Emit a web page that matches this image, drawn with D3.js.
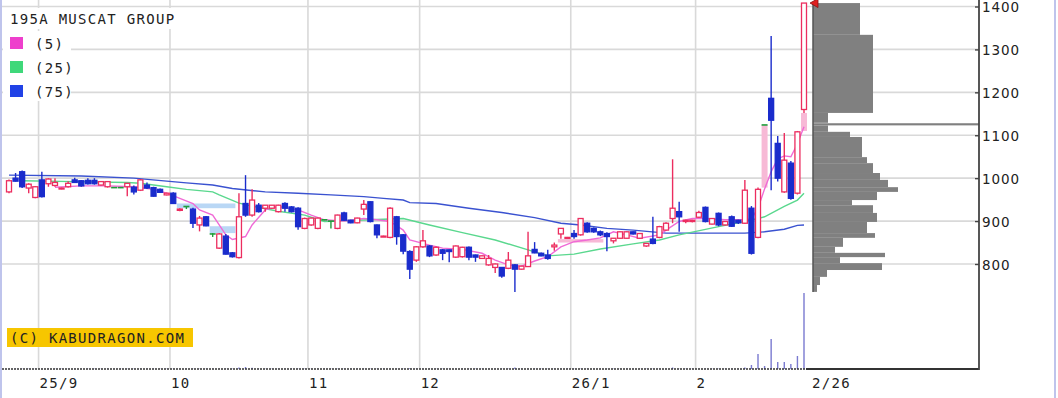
<!DOCTYPE html>
<html>
<head>
<meta charset="utf-8">
<script src="https://cdn.jsdelivr.net/npm/d3@7/dist/d3.min.js"></script>
<style>
  body { margin: 0; background: #fff; }
  svg { display: block; }
  .mono { font-family: "DejaVu Sans Mono", monospace; font-size: 14px; letter-spacing: 1.3px; fill: #222; }
  .price { font-family: "DejaVu Sans", sans-serif; font-size: 13.5px; letter-spacing: 0.9px; fill: #222; }
</style>
</head>
<body>
<svg id="chart" width="1058" height="398"></svg>
<script>
const title = '195A MUSCAT GROUP';
const maLabels = ['(5)', '(25)', '(75)'];
const copyright = '(C) KABUDRAGON.COM';
const priceTicks = [800, 900, 1000, 1100, 1200, 1300, 1400];
// month label + index of first candle in that month
const monthTicks = [['25/9', 5], ['10', 25], ['11', 46], ['12', 63], ['26/1', 86], ['2', 105]];
const lastDate = '2/26';

// daily candles [open, high, low, close]
const candles = [
  [968, 997, 965, 994], [1000, 1012, 992, 993], [1015, 1018, 977, 980], [977, 988, 965, 986],
  [955, 982, 953, 980], [996, 1015, 955, 957], [987, 1000, 980, 998], [983, 1000, 980, 990],
  [975, 978, 974, 977], [980, 993, 978, 988], [996, 1001, 989, 990], [994, 996, 980, 982],
  [995, 1000, 985, 987], [995, 1000, 985, 987], [984, 993, 983, 992], [980, 993, 978, 992],
  [978, 979, 977, 978], [978, 979, 977, 978], [980, 989, 958, 988], [979, 983, 962, 968],
  [972, 998, 970, 996], [984, 990, 975, 977], [978, 980, 957, 958], [974, 976, 966, 967],
  [961, 966, 960, 965], [965, 967, 941, 941], [925, 930, 923, 928], [934, 934, 928, 934],
  [928, 931, 884, 895], [891, 912, 876, 907], [910, 912, 888, 889], [870, 872, 863, 870],
  [837, 872, 835, 870], [865, 870, 822, 823], [826, 828, 815, 817], [815, 965, 813, 910],
  [941, 1007, 910, 914], [914, 974, 910, 949], [937, 942, 920, 922], [930, 937, 922, 937],
  [930, 937, 928, 937], [922, 938, 920, 937], [941, 944, 922, 930], [933, 935, 920, 922],
  [930, 932, 880, 887], [883, 908, 881, 906], [891, 908, 889, 907], [883, 908, 881, 907],
  [903, 904, 902, 903], [900, 900, 883, 900], [883, 915, 881, 914], [919, 922, 900, 902],
  [902, 903, 895, 896], [896, 908, 895, 907], [928, 949, 914, 939], [945, 946, 897, 899],
  [891, 892, 860, 868], [864, 866, 863, 865], [862, 932, 860, 930], [910, 912, 845, 864],
  [868, 870, 823, 830], [829, 832, 765, 788], [809, 842, 805, 840], [840, 879, 838, 854],
  [842, 844, 816, 819], [821, 841, 819, 839], [833, 835, 809, 825], [833, 834, 804, 829],
  [816, 843, 814, 842], [817, 840, 815, 839], [839, 841, 809, 816], [821, 822, 805, 816],
  [813, 820, 812, 819], [798, 821, 796, 813], [792, 801, 779, 800], [792, 793, 768, 772],
  [790, 828, 788, 809], [798, 800, 735, 788], [788, 796, 787, 795], [794, 875, 793, 819],
  [834, 851, 825, 826], [825, 827, 818, 819], [821, 833, 810, 813], [840, 850, 831, 844],
  [870, 883, 859, 883], [860, 863, 859, 862], [871, 879, 859, 864], [868, 907, 866, 906],
  [895, 897, 873, 875], [883, 885, 873, 875], [875, 878, 865, 868], [871, 874, 830, 864],
  [854, 860, 848, 860], [860, 876, 859, 875], [860, 876, 859, 875], [875, 876, 869, 870],
  [860, 872, 859, 871], [842, 849, 840, 848], [858, 910, 846, 848], [862, 889, 860, 887],
  [879, 897, 878, 895], [906, 1044, 895, 930], [922, 945, 875, 910], [899, 903, 895, 902],
  [899, 903, 897, 902], [909, 924, 907, 920], [932, 934, 897, 899], [893, 907, 892, 906],
  [918, 920, 888, 891], [891, 900, 890, 899], [910, 913, 886, 888], [902, 903, 893, 896],
  [895, 996, 893, 972], [930, 935, 822, 825], [862, 978, 860, 974], [1124, 1124, 1124, 1124],
  [1186, 1331, 972, 1135], [1081, 1098, 992, 1000], [968, 1105, 966, 1042], [1035, 1040, 950, 953],
  [965, 1110, 962, 1108], [1160, 1408, 1152, 1408]
];

// volume per candle (only the last days are visible)
const volumes = [
  3, 3, 3, 3, 3, 3, 3, 3, 3, 3, 3, 3, 3, 3, 3, 3, 3, 3, 3, 3,
  3, 3, 3, 3, 3, 3, 3, 3, 3, 3, 3, 3, 3, 3, 3, 15, 20, 12, 3, 3,
  3, 3, 3, 3, 3, 3, 3, 3, 3, 3, 3, 3, 3, 3, 3, 3, 3, 3, 3, 3,
  3, 8, 3, 3, 3, 3, 3, 3, 3, 3, 3, 3, 3, 3, 3, 3, 3, 15, 3, 3,
  3, 3, 3, 3, 3, 3, 3, 3, 3, 3, 3, 3, 3, 3, 3, 3, 3, 3, 3, 3,
  3, 15, 3, 3, 3, 3, 3, 3, 3, 3, 3, 3, 15, 40, 150, 30, 300, 70, 70, 50,
  130, 760
];

// moving averages [candle index, value]
const ma5 = [[7, 979], [11, 982], [15, 982], [19, 980], [22, 974], [24, 965], [26, 953], [28, 941],
  [29, 926], [31, 914], [33, 868], [34, 857], [36, 864], [37, 891], [39, 926], [41, 934], [44, 926],
  [46, 914], [48, 903], [51, 900], [54, 906], [56, 903], [58, 899], [60, 879], [61, 856], [64, 844],
  [66, 837], [69, 834], [72, 825], [74, 809], [76, 798], [78, 795], [80, 807], [82, 817], [84, 840],
  [86, 852], [88, 856], [90, 861], [92, 875], [94, 868], [96, 860], [99, 868], [100, 879], [102, 899],
  [104, 906], [106, 906], [109, 903], [111, 903], [112, 903], [113, 905], [114, 930], [115, 975],
  [116, 1015], [117, 1045], [118, 1052], [119, 1050], [120, 1080], [121, 1120]];
const ma25 = [[2, 994], [10, 992], [18, 990], [20, 988], [24, 980], [27, 974], [31, 968], [32, 961],
  [35, 942], [37, 935], [41, 923], [45, 914], [48, 899], [55, 903], [60, 906], [64, 891], [69, 873],
  [74, 856], [79, 833], [82, 819], [86, 823], [90, 835], [95, 847], [99, 856], [102, 868], [108, 887],
  [112, 899], [115, 910], [118, 934], [120, 949], [121, 965]];
const ma75 = [[0, 1007], [11, 1005], [19, 1000], [24, 993], [27, 989], [31, 984], [34, 976], [39, 968],
  [44, 965], [49, 961], [54, 957], [57, 953], [60, 949], [61, 943], [65, 941], [70, 930], [75, 920],
  [80, 908], [84, 895], [87, 891], [91, 883], [95, 879], [100, 872], [105, 872], [112, 872], [115, 875],
  [118, 881], [120, 890], [121, 891]];

// price gaps (windows): [from index, to index, low, high, direction]
const gaps = [[26, 34, 930, 941, 'down'], [31, 34, 872, 888, 'down'], [84, 90, 850, 858, 'up'],
  [115, 115, 978, 1124, 'up'], [121, 121, 1110, 1152, 'up']];

// volume by price: [low, high, volume]
const profile = [
  [1334, 1408, 235], [1152, 1334, 300], [1129, 1152, 75], [1123, 1128, 830], [1108, 1123, 75],
  [1096, 1108, 185], [1049, 1096, 245], [1035, 1049, 270], [1012, 1035, 300], [996, 1012, 335],
  [979, 996, 375], [968, 979, 425], [949, 968, 320], [937, 949, 195], [919, 937, 300],
  [898, 919, 320], [872, 898, 270], [861, 872, 310], [840, 861, 150], [826, 840, 110],
  [816, 826, 360], [802, 816, 135], [786, 802, 345], [770, 786, 70], [751, 770, 35], [735, 751, 20]
];

const W = 1058, H = 398;
const plotRight = 979, baseY = 369, profX = 813;
const colors = { up: '#ec2d5f', down: '#1a2ccc', even: '#1f9e3a',
  ma5: '#f06ad6', ma25: '#5ad88e', ma75: '#3a52d0' };
const legendColors = ['#ee3fcc', '#3fd87a', '#2142e6'];

const svg = d3.select('#chart');
const x = d3.scaleLinear().domain([0, candles.length - 1]).range([9, 804]);
const y = d3.scaleLinear().domain([800, 1400]).range([264, 6.5]);
const yVol = d3.scaleLinear().domain([0, 1000]).range([baseY, baseY - 100]);
const wProf = d3.scaleLinear().domain([0, 1000]).range([0, 200]);

const bars = candles.map(([o, h, l, c], i) => ({
  i, o, h, l, c, kind: c > o ? 'up' : c < o ? 'down' : 'even'
}));

svg.append('rect').attr('width', W).attr('height', H).attr('fill', '#fff');

// grid
const grid = svg.append('g').attr('stroke', '#d9d9d9').attr('stroke-width', 1.6);
grid.selectAll('.h').data(priceTicks).join('line')
  .attr('x1', 2).attr('x2', plotRight).attr('y1', d => y(d)).attr('y2', d => y(d));
grid.selectAll('.v').data(monthTicks).join('line')
  .attr('x1', d => x(d[1] - 0.5)).attr('x2', d => x(d[1] - 0.5)).attr('y1', 0).attr('y2', baseY);

// gap windows
svg.append('g').selectAll('rect').data(gaps).join('rect')
  .attr('x', d => x(d[0]) - 3).attr('width', d => x(d[1]) - x(d[0]) + 6)
  .attr('y', d => y(d[3])).attr('height', d => y(d[2]) - y(d[3]))
  .attr('fill', d => d[4] === 'up' ? '#f7b9d6' : '#b9d7f5');

// volume profile
svg.append('g').selectAll('rect').data(profile).join('rect')
  .attr('x', profX).attr('width', d => wProf(d[2]))
  .attr('y', d => y(d[1])).attr('height', d => Math.max(1.5, y(d[0]) - y(d[1])))
  .attr('fill', '#808080');
svg.append('line').attr('x1', profX).attr('x2', profX)
  .attr('y1', y(d3.max(profile, d => d[1]))).attr('y2', y(d3.min(profile, d => d[0])))
  .attr('stroke', '#555').attr('stroke-width', 1.5);

// moving averages
const line = d3.line().x(d => x(d[0])).y(d => y(d[1]));
[[ma75, colors.ma75], [ma25, colors.ma25], [ma5, colors.ma5]].forEach(([data, c]) => {
  svg.append('path').datum(data).attr('d', line)
    .attr('fill', 'none').attr('stroke', c).attr('stroke-width', 1.4);
});

// candles
const bodyW = 5;
const cg = svg.append('g').selectAll('g').data(bars).join('g');
cg.append('line')
  .attr('x1', d => x(d.i)).attr('x2', d => x(d.i))
  .attr('y1', d => y(d.h)).attr('y2', d => y(d.l))
  .attr('stroke', d => colors[d.kind]).attr('stroke-width', 1.4);
cg.filter(d => d.kind !== 'even').append('rect')
  .attr('x', d => x(d.i) - bodyW / 2).attr('width', bodyW)
  .attr('y', d => y(Math.max(d.o, d.c)))
  .attr('height', d => Math.max(1, Math.abs(y(d.o) - y(d.c))))
  .attr('fill', d => d.kind === 'up' ? '#fff' : colors.down)
  .attr('stroke', d => colors[d.kind]).attr('stroke-width', 1.3);
cg.filter(d => d.kind === 'even').append('line')
  .attr('x1', d => x(d.i) - 3).attr('x2', d => x(d.i) + 3)
  .attr('y1', d => y(d.o)).attr('y2', d => y(d.o))
  .attr('stroke', colors.even).attr('stroke-width', 1.6);

// volume bars
svg.append('g').selectAll('line').data(volumes).join('line')
  .attr('x1', (d, i) => x(i)).attr('x2', (d, i) => x(i))
  .attr('y1', baseY).attr('y2', d => yVol(d))
  .attr('stroke', '#7a7ad0').attr('stroke-width', 1.4);

// frame
const lastX = x(candles.length - 1);
svg.append('line').attr('x1', 2).attr('x2', lastX + 2).attr('y1', baseY).attr('y2', baseY)
  .attr('stroke', '#333').attr('stroke-width', 1.5).attr('stroke-dasharray', '2,1');
svg.append('line').attr('x1', lastX + 2).attr('x2', plotRight).attr('y1', baseY).attr('y2', baseY)
  .attr('stroke', '#333').attr('stroke-width', 1.8);
svg.append('line').attr('x1', plotRight).attr('x2', plotRight).attr('y1', 0).attr('y2', baseY + 1)
  .attr('stroke', '#444').attr('stroke-width', 1.8);

// price axis
const axis = svg.append('g').attr('transform', `translate(${plotRight},0)`)
  .call(d3.axisRight(y).tickValues(priceTicks).tickFormat(d3.format('d')).tickSize(0).tickPadding(3));
axis.select('.domain').remove();
axis.selectAll('text').attr('class', 'price').attr('font-family', null).attr('font-size', null)
  .attr('dy', '0.38em');
axis.selectAll('.tick').append('line').attr('x1', -4).attr('x2', 0)
  .attr('stroke', '#444').attr('stroke-width', 1.4);

// date labels
svg.append('g').selectAll('text').data(monthTicks).join('text')
  .attr('class', 'mono').attr('x', d => x(d[1] - 0.5) + 1).attr('y', 388).text(d => d[0]);
svg.append('text').attr('class', 'mono').attr('x', lastX + 8).attr('y', 388).text(lastDate);

// legend
const lg = svg.append('g');
lg.append('rect').attr('x', 3).attr('y', 8).attr('width', 174).attr('height', 21).attr('fill', '#fff');
lg.append('rect').attr('x', 3).attr('y', 31).attr('width', 68).attr('height', 70).attr('fill', '#fff');
lg.append('text').attr('class', 'mono').attr('x', 10).attr('y', 24).text(title);
maLabels.forEach((t, i) => {
  const ly = 37 + i * 24;
  lg.append('rect').attr('x', 10).attr('y', ly).attr('width', 13).attr('height', 12).attr('fill', legendColors[i]);
  lg.append('text').attr('class', 'mono').attr('x', 35).attr('y', ly + 11.5).text(t);
});

// copyright
svg.append('rect').attr('x', 7).attr('y', 328).attr('width', 186).attr('height', 19).attr('fill', '#f7c600');
svg.append('text').attr('class', 'mono').attr('x', 10).attr('y', 342.5).text(copyright);

// last price marker
const last = bars[bars.length - 1];
const mx = lastX + 6, my = y(last.c);
svg.append('path').attr('d', `M${mx},${my} L${mx + 8},${my - 4.5} L${mx + 8},${my + 4.5} Z`)
  .attr('fill', '#e02020').attr('stroke', '#8a1010').attr('stroke-width', 0.8);

// outer borders
svg.append('line').attr('x1', 1).attr('x2', 1).attr('y1', 0).attr('y2', H).attr('stroke', '#aab0e6').attr('stroke-width', 1.5);
svg.append('line').attr('x1', 1055).attr('x2', 1055).attr('y1', 0).attr('y2', H).attr('stroke', '#aab0e6').attr('stroke-width', 1.5);
</script>
</body>
</html>
